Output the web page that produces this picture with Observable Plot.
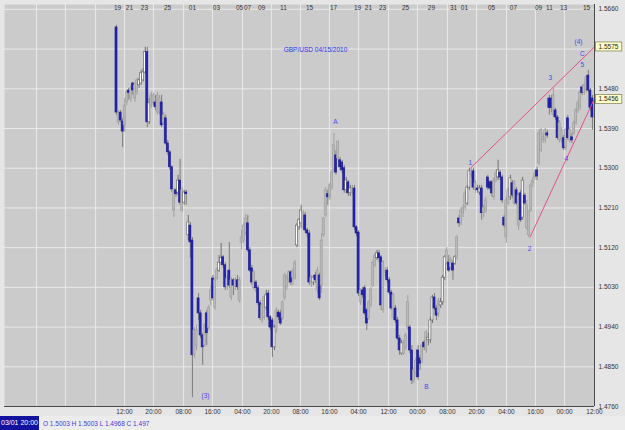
<!DOCTYPE html>
<html><head><meta charset="utf-8">
<script src="https://cdn.jsdelivr.net/npm/d3@7"></script>
<script src="https://cdn.jsdelivr.net/npm/@observablehq/plot@0.6"></script>
<style>
html,body{margin:0;padding:0;background:#e6e6e6;}
#chart{width:625px;height:416px;}
#info{width:625px;height:14px;background:#ececec;font-family:"Liberation Sans",Arial,sans-serif;display:flex;align-items:center;white-space:nowrap;}
#info .ts{background:#12129e;color:#fff;height:14px;line-height:14px;width:39px;flex:0 0 39px;text-align:center;font-size:7px;white-space:nowrap;overflow:visible;}
#info .ohlc{color:#3c3cd8;margin-left:4px;font-size:6.5px;white-space:nowrap;}
</style></head><body>
<div id="chart"></div><div id="info"></div>
<script>
// ---- data (GBP/USD candles) ----
const open = [
1.5619,1.5404,1.5426,1.5406,1.5397,1.5449,1.5476,1.5458,1.5492,1.5458,
1.5472,1.5488,1.5492,1.5499,1.5517,1.5563,1.5404,1.5442,1.5447,1.5449,
1.5426,1.5426,1.5449,1.5402,1.5413,1.5356,1.5336,1.5302,1.5204,1.5250,
1.5245,1.5272,1.5204,1.5222,1.5245,1.5148,1.5170,1.5136,1.4876,1.4898,
1.5005,1.4971,1.4921,1.4898,1.4971,1.4937,1.5000,1.5050,1.4984,1.5050,
1.5068,1.5086,1.5098,1.5080,1.5030,1.5068,1.5007,1.5046,1.5030,1.5046,
1.5000,1.5130,1.5136,1.5154,1.5175,1.5114,1.5073,1.5028,1.5041,1.5028,
1.4994,1.4955,1.4960,1.4984,1.5016,1.4962,1.4955,1.4894,1.4932,1.4973,
1.4971,1.4960,1.5005,1.5030,1.5046,1.5041,1.5064,1.5050,1.5125,1.5166,
1.5175,1.5166,1.5193,1.5159,1.5152,1.5039,1.5041,1.5057,1.5023,1.5057,
1.5034,1.5148,1.5193,1.5241,1.5234,1.5256,1.5295,1.5329,1.5322,1.5318,
1.5313,1.5300,1.5250,1.5268,1.5243,1.5245,1.5254,1.5166,1.5154,1.4996,
1.5023,1.5028,1.4978,1.4960,1.4989,1.5034,1.5080,1.5096,1.5107,1.5098,
1.4978,1.5062,1.5068,1.5046,1.5018,1.4960,1.4982,1.4955,1.4914,1.4880,
1.4880,1.4894,1.4939,1.4939,1.4887,1.4819,1.4835,1.4887,1.4869,1.4864,
1.4905,1.4887,1.4910,1.4910,1.4955,1.5007,1.4982,1.4971,1.4989,1.4996,
1.5052,1.5084,1.5086,1.5075,1.5084,1.5084,1.5098,1.5186,1.5177,1.5198,
1.5211,1.5220,1.5256,1.5284,1.5293,1.5250,1.5254,1.5245,1.5254,1.5198,
1.5204,1.5279,1.5268,1.5268,1.5234,1.5272,1.5279,1.5290,1.5279,1.5188,
1.5143,1.5220,1.5234,1.5266,1.5220,1.5250,1.5170,1.5243,1.5188,1.5238,
1.5164,1.5148,1.5204,1.5266,1.5279,1.5295,1.5311,1.5340,1.5363,1.5363,
1.5379,1.5458,1.5458,1.5420,1.5431,1.5415,1.5363,1.5363,1.5368,1.5347,
1.5413,1.5363,1.5370,1.5379,1.5402,1.5431,1.5438,1.5483,1.5470,1.5476,
1.5510,1.5476,1.5458];
const high = [
1.5624,1.5431,1.5431,1.5413,1.5458,1.5476,1.5481,1.5488,1.5495,1.5495,
1.5504,1.5504,1.5522,1.5526,1.5574,1.5574,1.5458,1.5472,1.5470,1.5465,
1.5472,1.5465,1.5465,1.5426,1.5420,1.5363,1.5340,1.5306,1.5254,1.5254,
1.5284,1.5320,1.5256,1.5250,1.5250,1.5193,1.5177,1.5143,1.4939,1.4944,
1.5016,1.4978,1.4926,1.4948,1.4978,1.4989,1.5034,1.5057,1.5052,1.5075,
1.5102,1.5130,1.5102,1.5086,1.5057,1.5132,1.5052,1.5050,1.5052,1.5057,
1.5052,1.5159,1.5175,1.5195,1.5193,1.5120,1.5080,1.5068,1.5046,1.5034,
1.5000,1.4994,1.5012,1.5023,1.5023,1.4966,1.4960,1.4944,1.4984,1.4978,
1.4978,1.5000,1.5062,1.5057,1.5068,1.5068,1.5073,1.5091,1.5175,1.5186,
1.5216,1.5204,1.5200,1.5164,1.5159,1.5057,1.5057,1.5064,1.5075,1.5062,
1.5152,1.5188,1.5256,1.5250,1.5266,1.5295,1.5379,1.5340,1.5363,1.5324,
1.5318,1.5306,1.5279,1.5272,1.5261,1.5261,1.5261,1.5170,1.5159,1.5028,
1.5030,1.5034,1.4982,1.5000,1.5030,1.5091,1.5107,1.5114,1.5114,1.5102,
1.5091,1.5075,1.5075,1.5052,1.5023,1.5016,1.4989,1.4962,1.4921,1.4910,
1.4910,1.4926,1.5012,1.4944,1.4898,1.4848,1.4871,1.4898,1.4876,1.4903,
1.4910,1.4932,1.4926,1.4962,1.5012,1.5016,1.4989,1.5005,1.5005,1.5057,
1.5102,1.5120,1.5102,1.5098,1.5091,1.5102,1.5148,1.5193,1.5211,1.5216,
1.5250,1.5261,1.5300,1.5300,1.5300,1.5272,1.5261,1.5261,1.5261,1.5216,
1.5234,1.5284,1.5272,1.5272,1.5279,1.5295,1.5318,1.5295,1.5284,1.5193,
1.5234,1.5256,1.5284,1.5272,1.5272,1.5256,1.5243,1.5250,1.5279,1.5243,
1.5227,1.5204,1.5266,1.5279,1.5295,1.5302,1.5386,1.5390,1.5379,1.5390,
1.5386,1.5465,1.5465,1.5481,1.5436,1.5420,1.5408,1.5392,1.5374,1.5390,
1.5420,1.5392,1.5379,1.5408,1.5436,1.5454,1.5476,1.5488,1.5492,1.5510,
1.5522,1.5481,1.5465];
const low = [
1.5420,1.5397,1.5404,1.5347,1.5381,1.5442,1.5454,1.5449,1.5465,1.5449,
1.5465,1.5481,1.5488,1.5495,1.5513,1.5392,1.5399,1.5436,1.5442,1.5431,
1.5420,1.5420,1.5392,1.5397,1.5352,1.5329,1.5295,1.5245,1.5188,1.5234,
1.5238,1.5216,1.5200,1.5216,1.5216,1.5136,1.5096,1.4780,1.4869,1.4887,
1.4955,1.4914,1.4853,1.4894,1.4898,1.4932,1.4989,1.5000,1.4978,1.5046,
1.5064,1.5080,1.5073,1.5023,1.5023,1.5028,1.5000,1.5012,1.5023,1.5023,
1.4994,1.5114,1.5130,1.5148,1.5109,1.5064,1.5034,1.5023,1.5018,1.4989,
1.4955,1.4948,1.4955,1.4978,1.4955,1.4932,1.4871,1.4887,1.4926,1.4955,
1.4944,1.4955,1.5000,1.5023,1.5039,1.5034,1.5034,1.5046,1.5120,1.5159,
1.5164,1.5159,1.5152,1.5143,1.5034,1.5030,1.5034,1.5039,1.5016,1.5000,
1.5016,1.5143,1.5188,1.5216,1.5227,1.5250,1.5290,1.5284,1.5318,1.5295,
1.5288,1.5243,1.5243,1.5236,1.5236,1.5238,1.5159,1.5145,1.5009,1.4989,
1.5005,1.4966,1.4932,1.4955,1.4984,1.5030,1.5075,1.5091,1.5086,1.4978,
1.4971,1.5052,1.5039,1.5012,1.4978,1.4955,1.4948,1.4910,1.4876,1.4876,
1.4876,1.4887,1.4932,1.4880,1.4810,1.4812,1.4826,1.4819,1.4842,1.4857,
1.4887,1.4880,1.4898,1.4903,1.4948,1.4978,1.4955,1.4962,1.4982,1.4989,
1.5046,1.5080,1.5064,1.5068,1.5046,1.5080,1.5091,1.5166,1.5170,1.5188,
1.5204,1.5216,1.5250,1.5277,1.5250,1.5243,1.5243,1.5238,1.5182,1.5188,
1.5198,1.5250,1.5250,1.5234,1.5227,1.5266,1.5272,1.5272,1.5220,1.5164,
1.5130,1.5216,1.5227,1.5232,1.5216,1.5216,1.5159,1.5177,1.5182,1.5216,
1.5159,1.5143,1.5200,1.5256,1.5272,1.5272,1.5306,1.5336,1.5356,1.5356,
1.5368,1.5420,1.5426,1.5415,1.5408,1.5363,1.5356,1.5356,1.5340,1.5340,
1.5363,1.5356,1.5356,1.5374,1.5397,1.5424,1.5431,1.5465,1.5465,1.5470,
1.5472,1.5431,1.5386];
const close = [
1.5426,1.5426,1.5408,1.5383,1.5442,1.5472,1.5470,1.5481,1.5476,1.5488,
1.5499,1.5499,1.5515,1.5517,1.5563,1.5404,1.5447,1.5465,1.5465,1.5438,
1.5465,1.5458,1.5397,1.5420,1.5356,1.5336,1.5302,1.5252,1.5245,1.5241,
1.5272,1.5222,1.5250,1.5245,1.5241,1.5177,1.5132,1.4876,1.4932,1.4932,
1.4971,1.4921,1.4894,1.4944,1.4926,1.4984,1.5023,1.5005,1.5046,1.5068,
1.5086,1.5096,1.5080,1.5030,1.5050,1.5034,1.5046,1.5034,1.5046,1.5030,
1.5046,1.5143,1.5170,1.5186,1.5114,1.5068,1.5041,1.5064,1.5028,1.4994,
1.4960,1.4989,1.5007,1.5012,1.4962,1.4939,1.4894,1.4939,1.4978,1.4962,
1.4948,1.4996,1.5057,1.5052,1.5064,1.5064,1.5052,1.5086,1.5170,1.5182,
1.5204,1.5198,1.5159,1.5152,1.5041,1.5052,1.5052,1.5046,1.5068,1.5005,
1.5136,1.5186,1.5250,1.5234,1.5261,1.5290,1.5352,1.5290,1.5359,1.5302,
1.5295,1.5250,1.5272,1.5243,1.5254,1.5254,1.5166,1.5152,1.5016,1.5023,
1.5012,1.4971,1.4948,1.4996,1.5025,1.5086,1.5102,1.5107,1.5096,1.4989,
1.5086,1.5068,1.5046,1.5018,1.4982,1.5012,1.4955,1.4914,1.4887,1.4903,
1.4903,1.4921,1.4996,1.4887,1.4819,1.4842,1.4864,1.4826,1.4857,1.4898,
1.4894,1.4928,1.4916,1.4955,1.5007,1.4982,1.4966,1.5000,1.4996,1.5052,
1.5098,1.5114,1.5068,1.5091,1.5068,1.5098,1.5143,1.5175,1.5204,1.5209,
1.5243,1.5256,1.5293,1.5293,1.5256,1.5266,1.5250,1.5254,1.5198,1.5211,
1.5227,1.5256,1.5254,1.5243,1.5272,1.5288,1.5295,1.5279,1.5227,1.5170,
1.5227,1.5250,1.5277,1.5238,1.5268,1.5220,1.5238,1.5182,1.5272,1.5220,
1.5216,1.5200,1.5261,1.5272,1.5288,1.5281,1.5379,1.5386,1.5370,1.5386,
1.5374,1.5436,1.5436,1.5465,1.5415,1.5368,1.5402,1.5386,1.5345,1.5386,
1.5368,1.5386,1.5363,1.5402,1.5431,1.5447,1.5472,1.5470,1.5488,1.5506,
1.5476,1.5436,1.5415];
// candle style as drawn: b = blue (down), w = white (up), g = grey
const kind = (
"bgbbggbgbg"+"gwwwwbwggb"+"ggbgbbbbgb"+"wbgwbwbbgg"+"bbbgbggbgg"+
"wwbbgbgbgb"+"ggggbbbgbb"+"bggwbbbwgb"+"bggggbggw"+"w"+"wgbbbgwbgb"+
"gggbgggbgb"+"bbwbwgbbbg"+"bbbggggwbb"+"ggbbbgbbbw"+"gggbbggbbg"+
"bgwwwbbgww"+"wgbgbwgbgg"+"gwwgbgbwbg"+"gbbbggwbbb"+"ggwbgbgbwb"+
"gggggbgggg"+"bbbgbbggbg"+"bgbggggbgg"+"bbb").split("");

const gridY = [1.4760,1.4850,1.4940,1.5030,1.5120,1.5210,1.5300,1.5390,1.5480,1.5570,1.5660];
const yTickLabels = [1.4760,1.4850,1.4940,1.5030,1.5120,1.5210,1.5300,1.5390,1.5480,1.5660];
const boxedPrices = [1.5575, 1.5456];
const dateLabels = ["19","21","23","25","01","03","05","07","09","11","15","17","19","21","23","25","29","31","01","05","07","09","11","13","15"];
const dateAt = [0.5,6.3,13.6,24.9,37.0,48.7,60.0,63.9,70.7,81.4,94.1,105.8,117.5,122.8,129.7,140.9,153.5,164.3,169.6,182.8,193.5,205.7,211.0,217.9,229.1];
const timeLabels = ["12:00","20:00","08:00","16:00","04:00","20:00","08:00","16:00","04:00","12:00","00:00","08:00","20:00","04:00","16:00","00:00","12:00"];
const timeAt = [3.9,18.0,32.7,46.8,61.4,75.5,89.7,103.8,118.0,132.6,146.7,161.3,175.5,190.1,204.2,218.4,233.0];
const gridXExtra = [-39.0,-24.9,-10.2];
const waveText = ["(3)","A","B","1","2","3","4","5","C","(4)"];
const waveX = [43.4,106.7,151.1,172.5,201.3,211.5,219.3,227.1,227.1,225.2];
const waveY = [1.4785,1.5404,1.4805,1.5313,1.5118,1.5504,1.5320,1.5535,1.5560,1.5587];
const trendX1 = [172.5, 201.5], trendY1 = [1.5300, 1.5143];
const trendX2 = [233, 233],     trendY2 = [1.5575, 1.5458];
const titleText = "GBP/USD 04/15/2010", titleX = 97, titleY = 1.5567;
const infoStamp = "03/01 20:00";
const infoKeys = ["O","H","L","C"], infoVals = ["1.5003","1.5003","1.4968","1.497"];

// ---- build ----
const candles = open.map((o, i) => ({i, o, h: high[i], l: low[i], c: close[i], k: kind[i]}));
const bodyFill = {b: "#2424b8", w: "#ffffff", g: "#bababa"};
const bodyStroke = {b: "#1a1a8e", w: "#5a5a5a", g: "#9c9c9c"};
const wickColor = {b: "#7c7c7c", w: "#707070", g: "#a0a0a0"};
const dates = dateLabels.map((t, j) => ({t, x: dateAt[j]}));
const times = timeLabels.map((t, j) => ({t, x: timeAt[j]}));
const waves = waveText.map((t, j) => ({t, x: waveX[j], y: waveY[j]}));
const trends = trendX1.map((x, j) => ({x1: x, y1: trendY1[j], x2: trendX2[j], y2: trendY2[j]}));
const font = "'Liberation Sans', Arial, sans-serif";

const chart = Plot.plot({
  width: 625, height: 416,
  marginLeft: 4, marginRight: 31, marginTop: 4, marginBottom: 10,
  style: {background: "transparent", fontFamily: font, fontSize: "6.5px", color: "#333", overflow: "visible"},
  x: {domain: [-54.6, 233], axis: null},
  y: {domain: [1.4760, 1.5671], axis: null},
  color: {type: "identity"},
  marks: [
    Plot.frame({fill: "#cbcbcb", stroke: null}),
    Plot.ruleY(gridY, {stroke: "#e9e9e9", strokeWidth: 1}),
    Plot.ruleX(timeAt.concat(gridXExtra), {stroke: "#e9e9e9", strokeWidth: 1}),
    Plot.ruleX(candles, {x: "i", y1: "l", y2: "h", stroke: d => wickColor[d.k], strokeWidth: 1}),
    Plot.rect(candles, {x1: d => d.i - 0.5, x2: d => d.i + 0.5, y1: "o", y2: "c",
      fill: d => bodyFill[d.k], stroke: d => bodyStroke[d.k], strokeWidth: 0.6}),
    Plot.link(trends, {x1: "x1", y1: "y1", x2: "x2", y2: "y2", stroke: "#e4508e", strokeWidth: 1}),
    Plot.text(waves, {x: "x", y: "y", text: "t", fill: "#4646f0", fontSize: 6.5}),
    Plot.text([titleText], {x: titleX, y: titleY, text: d => d, fill: "#3232f0", fontSize: 6.5}),
    Plot.ruleY([1.4760], {stroke: "#4a4a4a"}),
    Plot.ruleX([233], {stroke: "#4a4a4a"}),
    Plot.text(dates, {x: "x", text: "t", frameAnchor: "top", dy: 3.5, lineAnchor: "middle", fill: "#333"}),
    Plot.text(times, {x: "x", text: "t", frameAnchor: "bottom", dy: 5.5, lineAnchor: "middle", fill: "#333"}),
    Plot.axisY(yTickLabels, {anchor: "right", tickSize: 0, tickPadding: 4, label: null,
      tickFormat: d => d.toFixed(4), fill: "#333", fontSize: 6.5}),
    Plot.text(boxedPrices, {frameAnchor: "right", y: d => d, text: d => d.toFixed(4),
      textAnchor: "start", dx: 4, fill: "#222", fontSize: 6.5})
  ]
});
document.getElementById("chart").appendChild(chart);

// yellow boxes behind the highlighted price labels
const boxedStr = boxedPrices.map(d => d.toFixed(4));
d3.select(chart).selectAll("text").filter(function () {
  return boxedStr.includes(this.textContent) && this.closest("g[aria-label='text']");
}).each(function () {
  const b = this.getBBox();
  const r = document.createElementNS("http://www.w3.org/2000/svg", "rect");
  r.setAttribute("x", b.x - 3); r.setAttribute("y", b.y - 1);
  r.setAttribute("width", b.width + 6); r.setAttribute("height", b.height + 2);
  r.setAttribute("fill", "#ffffc8"); r.setAttribute("stroke", "#8a8a60"); r.setAttribute("stroke-width", "0.8");
  const t = this.getAttribute("transform"); if (t) r.setAttribute("transform", t);
  this.parentNode.insertBefore(r, this);
});

// info strip
const info = d3.select("#info");
info.append("div").attr("class", "ts").text(infoStamp);
info.append("div").attr("class", "ohlc").text(infoKeys.map((k, j) => k + " " + infoVals[j]).join(" "));
</script>
</body></html>
